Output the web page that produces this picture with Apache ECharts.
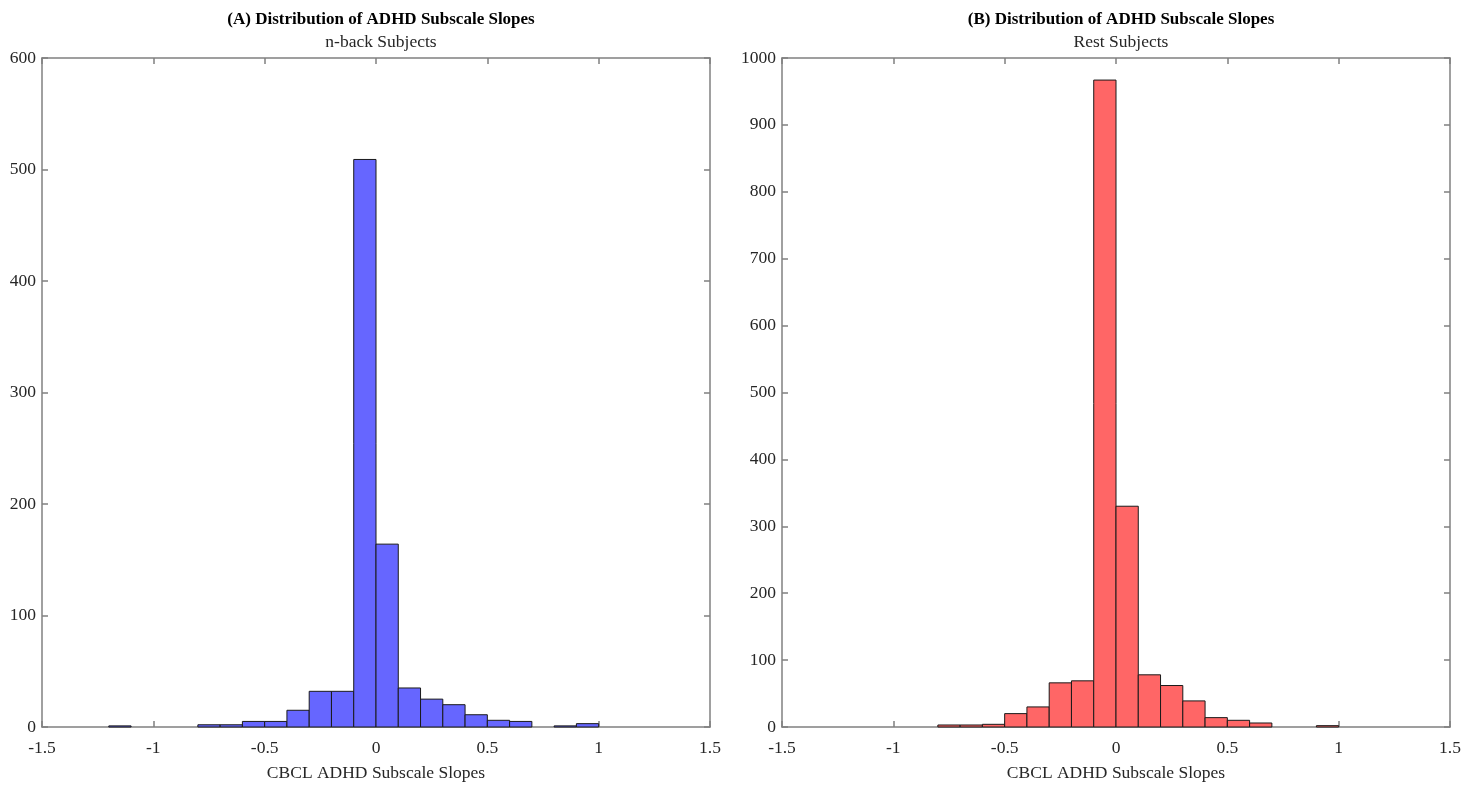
<!DOCTYPE html>
<html>
<head>
<meta charset="utf-8" />
<style>
  html, body { margin: 0; padding: 0; background: #fff; }
  #main { width: 1481px; height: 787px; }
</style>
</head>
<body>
<div id="main"></div>
<script src="https://cdn.jsdelivr.net/npm/echarts@6/dist/echarts.min.js"></script>
<script>
// lower edges of the 0.1-wide bins
var binWidth = 0.1;
var binStarts = [-1.2, -1.1, -1.0, -0.9, -0.8, -0.7, -0.6, -0.5, -0.4, -0.3, -0.2,
                 -0.1, 0.0, 0.1, 0.2, 0.3, 0.4, 0.5, 0.6, 0.7, 0.8, 0.9];
var nbackCounts = [1, 0, 0, 0, 2, 2, 5, 5, 15, 32, 32,
                   509, 164, 35, 25, 20, 11, 6, 5, 0, 1, 3];
var restCounts  = [0, 0, 0, 0, 3, 3, 4, 20, 30, 66, 69,
                   967, 330, 78, 62, 39, 14, 10, 6, 0, 0, 2];

function toData(counts) {
  var out = [];
  for (var i = 0; i < binStarts.length; i++) {
    if (counts[i] > 0) out.push([binStarts[i], counts[i]]);
  }
  return out;
}

function renderBin(params, api) {
  var x0 = api.value(0);
  var p0 = api.coord([x0, 0]);
  var p1 = api.coord([x0 + binWidth, api.value(1)]);
  return {
    type: 'rect',
    shape: { x: p0[0], y: p1[1], width: p1[0] - p0[0], height: p0[1] - p1[1] },
    style: api.style()
  };
}

var font = 'Liberation Serif, Times New Roman, serif';
var axisColor = '#808080';
var tick = { show: true, inside: true, length: 6, lineStyle: { color: axisColor, width: 1.5 } };
var line = { show: true, onZero: false, lineStyle: { color: axisColor, width: 1.5 } };

function xAxes(gi) {
  return [{
    type: 'value', gridIndex: gi, min: -1.5, max: 1.5, interval: 0.5,
    name: 'CBCL ADHD Subscale Slopes', nameLocation: 'middle', nameGap: 37,
    nameTextStyle: { fontFamily: font, fontSize: 17.5, color: '#262626' },
    axisLine: line, axisTick: tick,
    axisLabel: { fontFamily: font, fontSize: 17.5, color: '#262626', margin: 12 },
    splitLine: { show: false }
  }, {
    type: 'value', gridIndex: gi, position: 'top', min: -1.5, max: 1.5, interval: 0.5,
    axisLine: line, axisTick: tick, axisLabel: { show: false }, splitLine: { show: false }
  }];
}

function yAxes(gi, max) {
  return [{
    type: 'value', gridIndex: gi, position: 'left', min: 0, max: max, interval: 100,
    axisLine: line, axisTick: tick,
    axisLabel: { fontFamily: font, fontSize: 17.5, color: '#262626', margin: 6,
                 formatter: function (v) { return String(v); } },
    splitLine: { show: false }
  }, {
    type: 'value', gridIndex: gi, position: 'right', min: 0, max: max, interval: 100,
    axisLine: line, axisTick: tick, axisLabel: { show: false }, splitLine: { show: false }
  }];
}

var chart = echarts.init(document.getElementById('main'));
var option = {
  animation: false,
  title: [
    { text: '(A) Distribution of ADHD Subscale Slopes', subtext: 'n-back Subjects',
      left: 376, top: 6, textAlign: 'center', itemGap: 5,
      textStyle: { fontFamily: font, fontSize: 17, fontWeight: 'bold', color: '#000' },
      subtextStyle: { fontFamily: font, fontSize: 17.5, color: '#262626' } },
    { text: '(B) Distribution of ADHD Subscale Slopes', subtext: 'Rest Subjects',
      left: 1116, top: 6, textAlign: 'center', itemGap: 5,
      textStyle: { fontFamily: font, fontSize: 17, fontWeight: 'bold', color: '#000' },
      subtextStyle: { fontFamily: font, fontSize: 17.5, color: '#262626' } }
  ],
  grid: [
    { left: 42, top: 58, width: 668, height: 672 },
    { left: 782, top: 58, width: 668, height: 672 }
  ],
  xAxis: xAxes(0).concat(xAxes(1)),
  yAxis: yAxes(0, 600).concat(yAxes(1, 1000)),
  series: [{
    type: 'custom', xAxisIndex: 0, yAxisIndex: 0, z: 1,
    renderItem: renderBin, data: toData(nbackCounts),
    itemStyle: { color: '#6666ff', borderColor: '#1a1a1a', borderWidth: 1 }
  }, {
    type: 'custom', xAxisIndex: 2, yAxisIndex: 2, z: 1,
    renderItem: renderBin, data: toData(restCounts),
    itemStyle: { color: '#ff6666', borderColor: '#1a1a1a', borderWidth: 1 }
  }]
};
chart.setOption(option);
</script>
</body>
</html>
